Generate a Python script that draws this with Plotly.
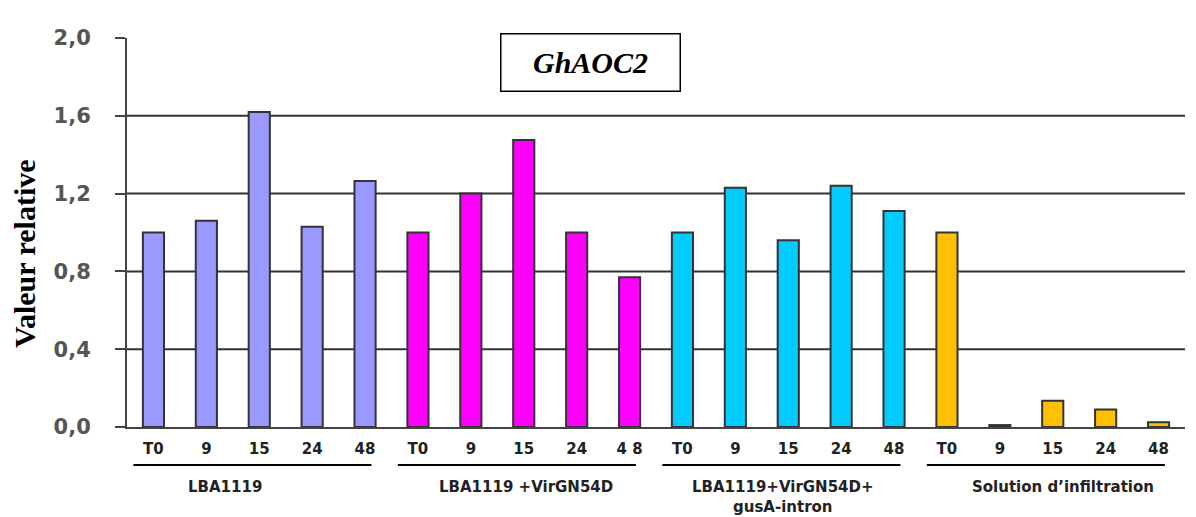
import plotly.graph_objects as go

# 数据
temps = ["T0", "9", "15", "24", "48"]
groupes = ["LBA1119", "LBA1119 +VirGN54D", "LBA1119+VirGN54D+<br>gusA-intron", "Solution d’infiltration"]
couleurs = ["#9999FF", "#FF00FF", "#00CCFF", "#FFC000"]
val_lba = [1.00, 1.06, 1.62, 1.03, 1.265]
val_virg = [1.00, 1.20, 1.475, 1.00, 0.77]
val_gus = [1.00, 1.23, 0.96, 1.24, 1.11]
val_sol = [1.00, 0.01, 0.135, 0.09, 0.025]
ticks_y = [0.0, 0.4, 0.8, 1.2, 1.6, 2.0]
labels_y = ["0,0", "0,4", "0,8", "1,2", "1,6", "2,0"]
labels_x = ["T0", "9", "15", "24", "48", "T0", "9", "15", "24", "4 8",
            "T0", "9", "15", "24", "48", "T0", "9", "15", "24", "48"]
centres_groupes = [1.35, 7.04, 11.9, 17.2]

series = [val_lba, val_virg, val_gus, val_sol]

# la page ajoute une marge de 8 px (body)
W, H = 1188, 509
L, T = 119, 30
PW, PH = 1058, 389

fig = go.Figure()
for g, vals in enumerate(series):
    fig.add_trace(go.Bar(
        x=[g * len(temps) + i for i in range(len(temps))],
        y=vals,
        width=0.4,
        marker=dict(color=couleurs[g], line=dict(color="#333333", width=2)),
        showlegend=False,
    ))

# lignes horizontales
for v in ticks_y[1:-1]:
    fig.add_shape(type="line", xref="paper", yref="y", x0=0, x1=1, y0=v, y1=v,
                  line=dict(color="#333333", width=2), layer="below")

# soulignement des groupes + noms
for g, nom in enumerate(groupes):
    fig.add_shape(type="line", xref="x", yref="paper",
                  x0=g * 5 - 0.38, x1=g * 5 + 4.12, y0=-0.098, y1=-0.098,
                  line=dict(color="black", width=2))
    fig.add_annotation(x=centres_groupes[g], y=-0.125, xref="x", yref="paper",
                       text=nom, showarrow=False, yanchor="top",
                       font=dict(family="DejaVu Sans", size=15, color="#222222", weight="bold"))

# titre encadré
fig.add_annotation(
    x=(590 - 127) / PW, y=(427 - 63) / PH, xref="paper", yref="paper",
    xanchor="center", yanchor="middle", showarrow=False,
    text="<b><i>GhAOC2</i></b>",
    font=dict(family="Liberation Serif", size=30, color="black"),
    bordercolor="black", borderwidth=1.5, width=176, height=54, bgcolor="white")

# titre axe y
fig.add_annotation(
    x=(25 - 127) / PW, y=(427 - 254) / PH, xref="paper", yref="paper",
    xanchor="center", yanchor="middle", showarrow=False, textangle=-90,
    text="<b>Valeur relative</b>",
    font=dict(family="Liberation Serif", size=30, color="black"))

fig.update_layout(
    width=W, height=H,
    margin=dict(l=L, r=W - L - PW, t=T, b=H - T - PH),
    plot_bgcolor="white", paper_bgcolor="white",
    xaxis=dict(
        range=[-0.5, 19.5],
        tickvals=list(range(20)), ticktext=labels_x,
        ticks="outside", ticklen=7, tickcolor="rgba(0,0,0,0)",
        tickfont=dict(family="DejaVu Sans", size=15, color="#222222", weight="bold"),
        showgrid=False, showline=True, linecolor="#444444", linewidth=2,
        zeroline=False,
    ),
    yaxis=dict(
        range=[0, 2.0],
        tickvals=ticks_y, ticktext=labels_y,
        ticks="outside", ticklen=10, tickcolor="#444444", tickwidth=2,
        ticklabelstandoff=20,
        tickfont=dict(family="DejaVu Sans", size=21, color="#555555", weight="bold"),
        showgrid=False, showline=True, linecolor="#444444", linewidth=2,
        zeroline=False,
    ),
)

fig.write_html("out.html")
